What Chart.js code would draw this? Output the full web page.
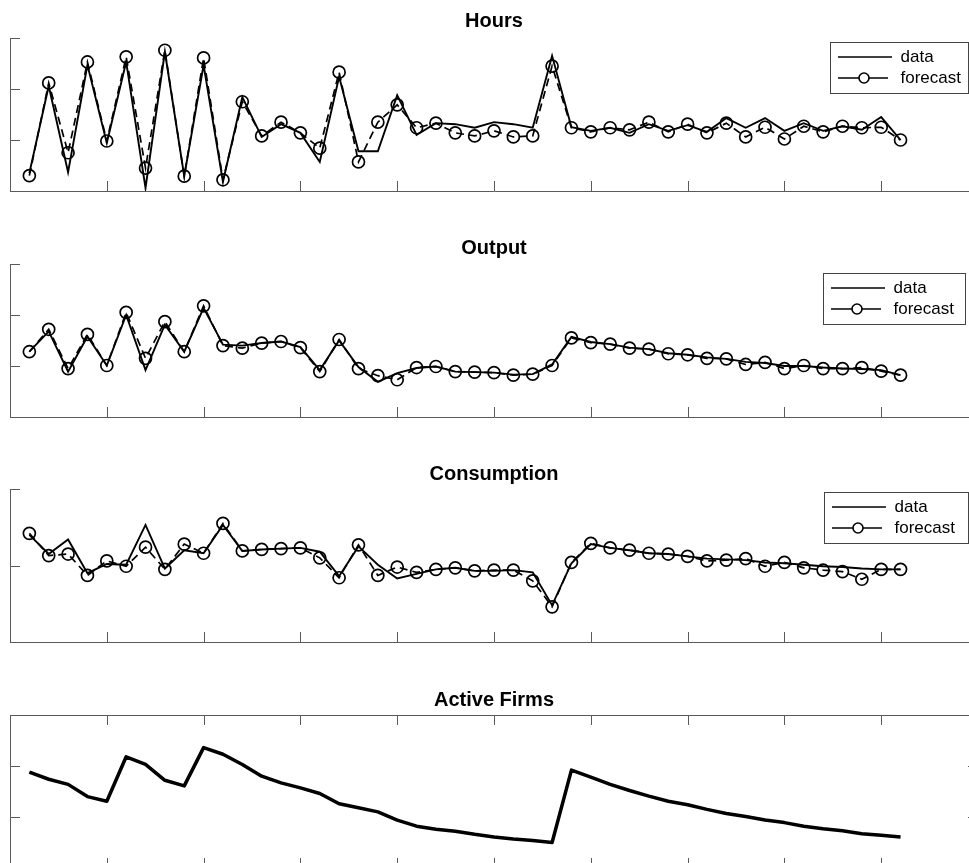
<!DOCTYPE html>
<html><head><meta charset="utf-8">
<script src="https://cdn.jsdelivr.net/npm/chart.js@4/dist/chart.umd.min.js"></script>
<style>
html,body{margin:0;padding:0;background:#fff;overflow:hidden;width:969px;height:863px;}
canvas{position:absolute;left:0;}
</style></head><body>
<canvas id="c1" width="1000" height="200" style="top:0px"></canvas>
<canvas id="c2" width="1000" height="200" style="top:226px"></canvas>
<canvas id="c3" width="1000" height="200" style="top:451px"></canvas>
<canvas id="c4" width="1000" height="200" style="top:677px"></canvas>
<script>
// ---------- data ----------
const periods = [1,2,3,4,5,6,7,8,9,10,11,12,13,14,15,16,17,18,19,20,21,22,23,24,25,26,27,28,29,30,31,32,33,34,35,36,37,38,39,40,41,42,43,44,45,46];
const panelTitles = ["Hours", "Output", "Consumption", "Active Firms"];
const legendLabels = ["data", "forecast"];

const hoursData = [0.35,2.06,0.37,2.47,0.94,2.53,0.06,2.73,0.29,2.47,0.18,1.84,1.06,1.31,1.14,0.57,2.24,0.78,0.78,1.88,1.10,1.33,1.31,1.24,1.35,1.31,1.24,2.65,1.25,1.18,1.24,1.14,1.31,1.18,1.29,1.16,1.43,1.24,1.43,1.18,1.33,1.18,1.27,1.20,1.45,1.00];
const hoursForecast = [0.30,2.12,0.75,2.53,0.98,2.63,0.45,2.76,0.29,2.61,0.22,1.75,1.08,1.35,1.14,0.84,2.33,0.57,1.35,1.69,1.24,1.33,1.14,1.08,1.18,1.06,1.08,2.45,1.24,1.16,1.24,1.20,1.35,1.16,1.31,1.14,1.33,1.06,1.25,1.02,1.27,1.16,1.27,1.24,1.25,1.00];

const outputData = [1.28,1.68,0.89,1.58,1.01,2.00,0.92,1.81,1.28,2.14,1.42,1.40,1.45,1.48,1.37,0.92,1.50,0.98,0.69,0.86,0.96,0.99,0.89,0.88,0.87,0.83,0.84,1.03,1.57,1.47,1.43,1.36,1.33,1.25,1.22,1.17,1.14,1.08,1.06,1.00,1.00,0.97,0.95,0.94,0.92,0.82];
const outputForecast = [1.28,1.72,0.95,1.62,1.01,2.05,1.15,1.87,1.28,2.18,1.40,1.35,1.45,1.48,1.36,0.89,1.52,0.95,0.81,0.73,0.97,0.99,0.89,0.88,0.87,0.82,0.84,1.01,1.55,1.46,1.43,1.35,1.33,1.24,1.22,1.15,1.14,1.03,1.07,0.95,1.01,0.95,0.95,0.97,0.90,0.82];

const consumptionData = [1.40,1.15,1.34,0.90,1.02,1.01,1.53,0.96,1.20,1.16,1.53,1.19,1.21,1.22,1.23,1.18,0.86,1.25,1.01,0.83,0.89,0.95,0.97,0.93,0.93,0.94,0.91,0.48,1.03,1.28,1.23,1.20,1.16,1.15,1.12,1.09,1.08,1.07,1.04,1.03,1.01,0.99,0.98,0.96,0.95,0.95];
const consumptionForecast = [1.42,1.13,1.15,0.87,1.06,0.99,1.24,0.95,1.28,1.16,1.55,1.19,1.21,1.22,1.23,1.10,0.84,1.27,0.87,0.98,0.91,0.95,0.97,0.93,0.94,0.94,0.80,0.46,1.04,1.29,1.23,1.20,1.16,1.15,1.12,1.06,1.07,1.09,0.99,1.04,0.97,0.94,0.92,0.82,0.95,0.95];

const activeFirms = [1.88,1.74,1.64,1.40,1.31,2.18,2.03,1.72,1.61,2.36,2.23,2.03,1.80,1.67,1.57,1.46,1.26,1.18,1.10,0.94,0.82,0.76,0.72,0.66,0.61,0.57,0.54,0.50,1.92,1.78,1.64,1.52,1.41,1.31,1.24,1.15,1.07,1.01,0.94,0.89,0.82,0.77,0.73,0.67,0.64,0.61];

const xRange = [0, 50];
const xTickStep = 5;
const yRanges = [[0,3],[0,3],[0,2],[0,3]];

// ---------- style ----------
const AXIS = '#5a5a5a';
const TICK_LEN = 10;
Chart.defaults.font.family = "'Liberation Sans', Arial, Helvetica, sans-serif";
Chart.defaults.color = '#000';

function pts(ys) { return periods.map((p, i) => ({x: p, y: ys[i]})); }

function makeIcon(withMarker) {
  const c = document.createElement('canvas');
  c.width = 54; c.height = 16;
  const g = c.getContext('2d');
  g.strokeStyle = '#000'; g.lineWidth = 1.6;
  g.beginPath(); g.moveTo(0, 8); g.lineTo(withMarker ? 50 : 54, 8); g.stroke();
  if (withMarker) {
    g.fillStyle = '#fff';
    g.beginPath(); g.arc(26, 8, 5, 0, Math.PI * 2); g.fill(); g.stroke();
  }
  return c;
}
const iconData = makeIcon(false);
const iconForecast = makeIcon(true);

const inwardTicks = {
  id: 'inwardTicks',
  beforeDatasetsDraw(chart) {
    const ctx = chart.ctx, a = chart.chartArea;
    ctx.save();
    ctx.strokeStyle = AXIS; ctx.lineWidth = 1;
    Object.values(chart.scales).forEach(s => {
      s.ticks.forEach(t => {
        const p = Math.round(s.getPixelForValue(t.value)) + 0.5;
        ctx.beginPath();
        if (s.isHorizontal()) {
          const top = s.options.position === 'top';
          const y0 = top ? a.top : a.bottom;
          ctx.moveTo(p, y0); ctx.lineTo(p, y0 + (top ? TICK_LEN : -TICK_LEN));
        } else {
          const right = s.options.position === 'right';
          const x0 = right ? a.right : a.left;
          ctx.moveTo(x0, p); ctx.lineTo(x0 + (right ? -TICK_LEN : TICK_LEN), p);
        }
        ctx.stroke();
      });
    });
    ctx.restore();
  }
};

const legendBox = {
  id: 'legendBox',
  afterLayout(chart, args, o) {
    const lg = chart.legend;
    if (!lg || !o || o.w == null) return;
    const a = chart.chartArea;
    const bx = a.right + o.left, by = a.top + o.top;
    lg.left = bx + 4; lg.top = by + 2.5;
    lg.width = 300; lg.height = 300;
    lg.right = lg.left + 300; lg.bottom = lg.top + 300;
  },
  afterDraw(chart, args, o) {
    if (!o || o.w == null) return;
    const a = chart.chartArea, ctx = chart.ctx;
    const bx = Math.round(a.right + o.left) + 0.5, by = Math.round(a.top + o.top) + 0.5;
    ctx.save();
    ctx.strokeStyle = '#444'; ctx.lineWidth = 1;
    ctx.strokeRect(bx, by, o.w, o.h);
    ctx.restore();
  }
};
Chart.register(inwardTicks, legendBox);

function xAxis(pos) {
  return { type: 'linear', position: pos, min: xRange[0], max: xRange[1],
    ticks: { stepSize: xTickStep, display: false },
    grid: { display: false, drawTicks: false },
    border: { display: true, color: AXIS, width: 1 } };
}
function yAxis(pos, r) {
  return { type: 'linear', position: pos, min: r[0], max: r[1],
    ticks: { stepSize: 1, display: false },
    grid: { display: false, drawTicks: false },
    border: { display: true, color: AXIS, width: 1 } };
}

function baseOptions(idx, titlePadTop, legendOpt, scales) {
  return {
    responsive: false, animation: false, devicePixelRatio: 1,
    layout: { padding: { left: 10, right: 22, top: 0, bottom: 9 }, autoPadding: false },
    scales: scales,
    plugins: {
      title: { display: true, text: panelTitles[idx], color: '#000',
        font: { size: 20, weight: 'bold' }, padding: { top: titlePadTop, bottom: 38 - 24 - titlePadTop } },
      legend: legendOpt ? {
        display: true, position: 'chartArea', align: 'start', fullSize: false,
        labels: {
          usePointStyle: true, pointStyleWidth: 54, boxWidth: 54, padding: 4,
          font: { size: 17 }, color: '#000',
          generateLabels: () => [
            { text: legendLabels[0], pointStyle: iconData, fillStyle: '#000', strokeStyle: '#000', lineWidth: 0, hidden: false, datasetIndex: 0 },
            { text: legendLabels[1], pointStyle: iconForecast, fillStyle: '#000', strokeStyle: '#000', lineWidth: 0, hidden: false, datasetIndex: 1 }
          ]
        }
      } : { display: false },
      legendBox: legendOpt || false,
      tooltip: { enabled: false }
    }
  };
}

function pairChart(id, idx, dataArr, fcArr, titlePadTop, legendOpt) {
  new Chart(document.getElementById(id), {
    type: 'line',
    data: { datasets: [
      { label: legendLabels[0], data: pts(dataArr), borderColor: '#000', borderWidth: 1.9,
        pointRadius: 0, tension: 0, fill: false },
      { label: legendLabels[1], data: pts(fcArr), borderColor: '#000', borderWidth: 1.7,
        borderDash: [8, 5], pointRadius: 6, pointBorderWidth: 1.7, pointBorderColor: '#000',
        pointBackgroundColor: 'rgba(0,0,0,0)', tension: 0, fill: false }
    ]},
    options: baseOptions(idx, titlePadTop, legendOpt, { x: xAxis('bottom'), y: yAxis('left', yRanges[idx]) })
  });
}

pairChart('c1', 0, hoursData, hoursForecast, 9, { left: -148, top: 4, w: 138, h: 51 });
pairChart('c2', 1, outputData, outputForecast, 10, { left: -155, top: 9, w: 142, h: 51 });
pairChart('c3', 2, consumptionData, consumptionForecast, 11, { left: -154, top: 3, w: 144, h: 51 });

new Chart(document.getElementById('c4'), {
  type: 'line',
  data: { datasets: [
    { label: panelTitles[3], data: pts(activeFirms), borderColor: '#000', borderWidth: 3.5,
      pointRadius: 0, tension: 0, fill: false, borderJoinStyle: 'round' }
  ]},
  options: baseOptions(3, 11, null, {
    x: xAxis('bottom'), x2: xAxis('top'),
    y: yAxis('left', yRanges[3]), y2: yAxis('right', yRanges[3])
  })
});
</script>
</body></html>
